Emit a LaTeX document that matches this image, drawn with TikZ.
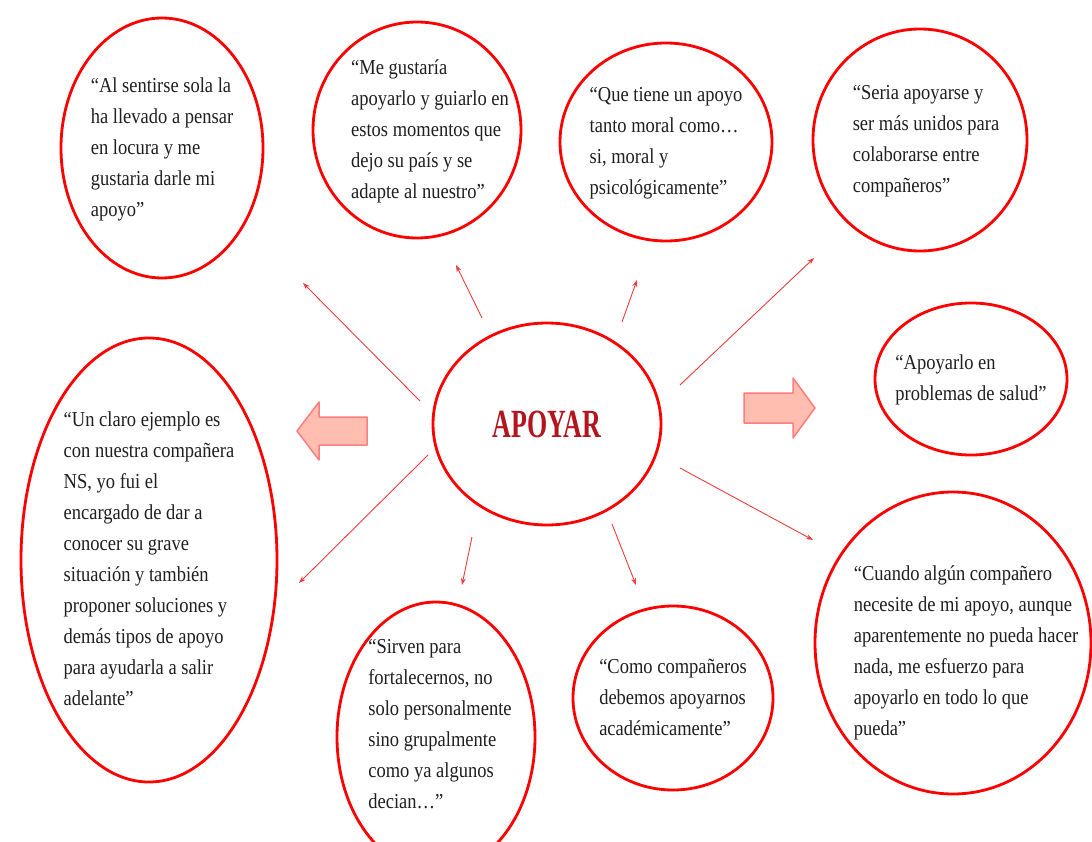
\documentclass[tikz,border=0pt]{standalone}
\usepackage{fontspec}
\setmainfont{Liberation Serif}
\usepackage{xcolor}
\usepackage{tikz}
\definecolor{ringred}{RGB}{255, 0, 0}
\definecolor{spokered}{RGB}{238, 60, 60}
\definecolor{titlered}{RGB}{180, 20, 30}
\definecolor{blockfill}{RGB}{255, 190, 175}
\definecolor{blockdraw}{RGB}{255, 125, 125}
\usetikzlibrary{shapes, arrows.meta, positioning, shapes.geometric}
\newcommand{\tallquote}[1]{\scalebox{1}[1.15]{\begin{tabular}{@{}l@{}}#1\end{tabular}}}

\begin{document}
\begin{tikzpicture}[
    x=1pt, y=-1pt,
    bubble/.style={ellipse, draw=ringred, line width=2.8pt, inner sep=0pt},
    quote/.style={align=left, inner sep=0pt, font=\fontsize{18.5}{27}\selectfont, text=black!88},
    spoke/.style={draw=spokered, line width=0.9pt, -{Stealth[length=7pt, width=5pt]}},
    blockarrow/.style={fill=blockfill, draw=blockdraw, line width=1.5pt, line join=round}
]
    \useasboundingbox (0,0) rectangle (1092,842);

    % centre
    \node[bubble, minimum width=228pt, minimum height=202pt, text=titlered,
          font=\fontsize{40}{40}\selectfont\bfseries] (apoyar) at (547,424) {\scalebox{0.65}[1]{APOYAR}};

    % top row
    \node[bubble, minimum width=202pt, minimum height=260pt,
          label={[quote]center:{\tallquote{“Al sentirse sola la\\ha llevado a pensar\\en locura y me\\gustaria darle mi\\apoyo”}}}] (sola) at (162,148) {};
    \node[bubble, minimum width=208pt, minimum height=216pt,
          label={[quote, xshift=13pt]center:{\tallquote{“Me gustaría\\apoyarlo y guiarlo en\\estos momentos que\\dejo su país y se\\adapte al nuestro”}}}] (guiar) at (417,130) {};
    \node[bubble, minimum width=212pt, minimum height=198pt,
          label={[quote]center:{\tallquote{“Que tiene un apoyo\\tanto moral como…\\si, moral y\\psicológicamente”}}}] (moral) at (666,142) {};
    \node[bubble, minimum width=214pt, minimum height=222pt,
          label={[quote, xshift=6pt]center:{\tallquote{“Seria apoyarse y\\ser más unidos para\\colaborarse entre\\compañeros”}}}] (unidos) at (920,140) {};

    % sides
    \node[bubble, minimum width=192pt, minimum height=152pt,
          label={[quote]center:{\tallquote{“Apoyarlo en\\problemas de salud”}}}] (salud) at (971,379) {};
    \node[bubble, minimum width=256pt, minimum height=444pt,
          label={[quote]center:{\tallquote{“Un claro ejemplo es\\con nuestra compañera\\NS, yo fui el\\encargado de dar a\\conocer su grave\\situación y también\\proponer soluciones y\\demás tipos de apoyo\\para ayudarla a salir\\adelante”}}}] (ejemplo) at (149,560) {};

    % bottom row
    \node[bubble, minimum width=198pt, minimum height=270pt,
          label={[quote, xshift=4pt, yshift=12pt]center:{\tallquote{“Sirven para\\fortalecernos, no\\solo personalmente\\sino grupalmente\\como ya algunos\\decian…”}}}] (sirven) at (436,737) {};
    \node[bubble, minimum width=200pt, minimum height=184pt,
          label={[quote]center:{\tallquote{“Como compañeros\\debemos apoyarnos\\académicamente”}}}] (academico) at (673,698) {};
    \node[bubble, minimum width=276pt, minimum height=302pt,
          label={[quote, xshift=13pt, yshift=-9pt]center:{\tallquote{“Cuando algún compañero\\necesite de mi apoyo, aunque\\aparentemente no pueda hacer\\nada, me esfuerzo para\\apoyarlo en todo lo que\\pueda”}}}] (esfuerzo) at (953,643) {};

    % spokes
    \coordinate (solaTail) at (420,401);
    \coordinate (solaTip) at (303,283);
    \coordinate (guiarTail) at (482,318);
    \coordinate (guiarTip) at (456,265);
    \coordinate (moralTail) at (622,322);
    \coordinate (moralTip) at (637,280);
    \coordinate (unidosTail) at (680,385);
    \coordinate (unidosTip) at (814,258);
    \coordinate (ejemploTail) at (428,455);
    \coordinate (ejemploTip) at (299,583);
    \coordinate (sirvenTail) at (472,537);
    \coordinate (sirvenTip) at (462,585);
    \coordinate (academicoTail) at (612,524);
    \coordinate (academicoTip) at (636,585);
    \coordinate (esfuerzoTail) at (680,468);
    \coordinate (esfuerzoTip) at (813,540);
    \draw[spoke] (solaTail) -- (solaTip);
    \draw[spoke] (guiarTail) -- (guiarTip);
    \draw[spoke] (moralTail) -- (moralTip);
    \draw[spoke] (unidosTail) -- (unidosTip);
    \draw[spoke] (ejemploTail) -- (ejemploTip);
    \draw[spoke] (sirvenTail) -- (sirvenTip);
    \draw[spoke] (academicoTail) -- (academicoTip);
    \draw[spoke] (esfuerzoTail) -- (esfuerzoTip);

    % block arrows
    \draw[blockarrow] (367,417) -- (319,417) -- (319,402) -- (297,431) -- (319,460) -- (319,445) -- (367,445) -- cycle;
    \draw[blockarrow] (744,393) -- (793,393) -- (793,378) -- (815,408) -- (793,438) -- (793,423) -- (744,423) -- cycle;
\end{tikzpicture}
\end{document}
